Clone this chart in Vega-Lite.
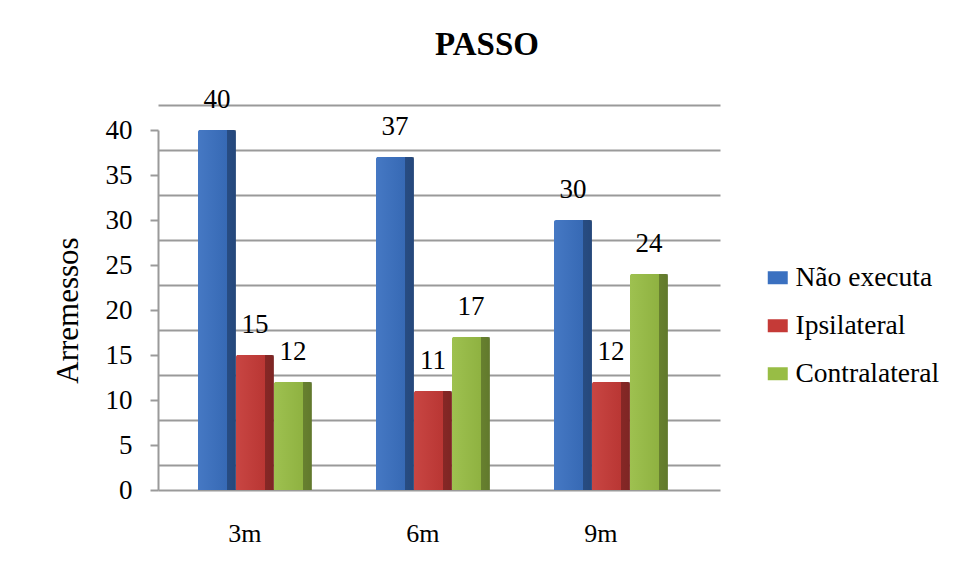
{
  "$schema": "https://vega.github.io/schema/vega-lite/v6.json",
  "autosize": {"type": "none"},
  "padding": {"left": 158, "top": 130, "right": 235, "bottom": 88},
  "width": 562,
  "height": 360,
  "background": "white",
  "title": {
    "text": "PASSO",
    "font": "Liberation Serif",
    "fontSize": 33,
    "fontWeight": "bold",
    "color": "#000000",
    "anchor": "middle",
    "frame": "group",
    "dx": 48,
    "offset": 24
  },
  "config": {
    "view": {"stroke": null},
    "font": "Liberation Serif",
    "text": {"font": "Liberation Serif"},
    "axis": {"labelFont": "Liberation Serif", "titleFont": "Liberation Serif", "labelColor": "#000000", "titleColor": "#000000"},
    "legend": {"labelFont": "Liberation Serif", "labelColor": "#000000"}
  },
  "data": {
    "values": [
      {"dist": "3m", "serie": "Não executa", "val": 40},
      {"dist": "3m", "serie": "Ipsilateral", "val": 15},
      {"dist": "3m", "serie": "Contralateral", "val": 12},
      {"dist": "6m", "serie": "Não executa", "val": 37},
      {"dist": "6m", "serie": "Ipsilateral", "val": 11},
      {"dist": "6m", "serie": "Contralateral", "val": 17},
      {"dist": "9m", "serie": "Não executa", "val": 30},
      {"dist": "9m", "serie": "Ipsilateral", "val": 12},
      {"dist": "9m", "serie": "Contralateral", "val": 24}
    ]
  },
  "encoding": {
    "x": {
      "field": "dist",
      "type": "nominal",
      "sort": ["3m", "6m", "9m"],
      "scale": {"paddingInner": 0.36, "paddingOuter": 0.2585, "align": 0.434},
      "axis": {
        "title": null,
        "labelAngle": 0,
        "labelFont": "Liberation Serif",
        "labelFontSize": 26,
        "labelColor": "#000000",
        "labelPadding": 30,
        "labelOffset": -10,
        "ticks": false,
        "domain": true,
        "domainColor": "#9a9a9a",
        "domainWidth": 2,
        "grid": false
      }
    },
    "xOffset": {
      "field": "serie",
      "type": "nominal",
      "sort": ["Não executa", "Ipsilateral", "Contralateral"],
      "scale": {"paddingInner": 0, "paddingOuter": 0}
    },
    "y": {
      "field": "val",
      "type": "quantitative",
      "scale": {"domain": [0, 40], "nice": false, "zero": true}
    }
  },
  "layer": [
    {
      "mark": {"type": "bar", "cornerRadiusTopLeft": 2, "cornerRadiusTopRight": 2},
      "encoding": {
        "color": {
          "field": "serie",
          "type": "nominal",
          "sort": ["Não executa", "Ipsilateral", "Contralateral"],
          "scale": {
            "domain": ["Não executa", "Ipsilateral", "Contralateral"],
            "range": ["#3a70c0", "#c53a37", "#98bd45"]
          },
          "legend": {
            "title": null,
            "orient": "none",
            "legendX": 606,
            "legendY": 134,
            "padding": 0,
            "symbolType": "M-1,-0.65L1,-0.65L1,0.65L-1,0.65Z",
            "symbolSize": 400,
            "symbolStrokeWidth": 0,
            "labelFont": "Liberation Serif",
            "labelColor": "#000000",
            "labelFontSize": 27.5,
            "labelOffset": 4,
            "rowPadding": 19
          }
        },
        "y": {
          "field": "val",
          "type": "quantitative",
          "axis": {
            "title": "Arremessos",
            "titleFont": "Liberation Serif",
            "titleFontSize": 31,
            "titleFontWeight": "normal",
            "titlePadding": 21,
            "values": [0, 5, 10, 15, 20, 25, 30, 35, 40],
            "labelFont": "Liberation Serif",
            "labelColor": "#000000",
            "labelFontSize": 27,
            "labelPadding": 18,
            "tickSize": 8,
            "tickColor": "#9a9a9a",
            "tickWidth": 2,
            "domainColor": "#9a9a9a",
            "domainWidth": 2,
            "grid": false
          }
        }
      }
    },
    {
      "mark": {
        "type": "bar",
        "fill": {
          "gradient": "linear",
          "x1": 0, "y1": 0, "x2": 1, "y2": 0,
          "stops": [
            {"offset": 0, "color": "rgba(255,255,255,0.06)"},
            {"offset": 0.76, "color": "rgba(0,0,0,0.06)"},
            {"offset": 0.77, "color": "rgba(0,0,0,0.32)"},
            {"offset": 1, "color": "rgba(0,0,0,0.36)"}
          ]
        }
      },
      "encoding": {
        "y": {"field": "val", "type": "quantitative", "axis": null}
      }
    },
    {
      "mark": {"type": "text", "font": "Liberation Serif", "fontSize": 27, "baseline": "alphabetic", "dy": -22, "color": "#000000"},
      "encoding": {
        "text": {"field": "val", "type": "quantitative"},
        "y": {
          "field": "val",
          "type": "quantitative",
          "axis": {
            "orient": "right",
            "title": null,
            "values": [0, 5, 10, 15, 20, 25, 30, 35, 40],
            "labels": false,
            "ticks": false,
            "domain": false,
            "grid": true,
            "gridColor": "#9a9a9a",
            "gridWidth": 2,
            "tickOffset": -25
          }
        }
      }
    }
  ],
  "resolve": {"axis": {"y": "independent"}}
}
